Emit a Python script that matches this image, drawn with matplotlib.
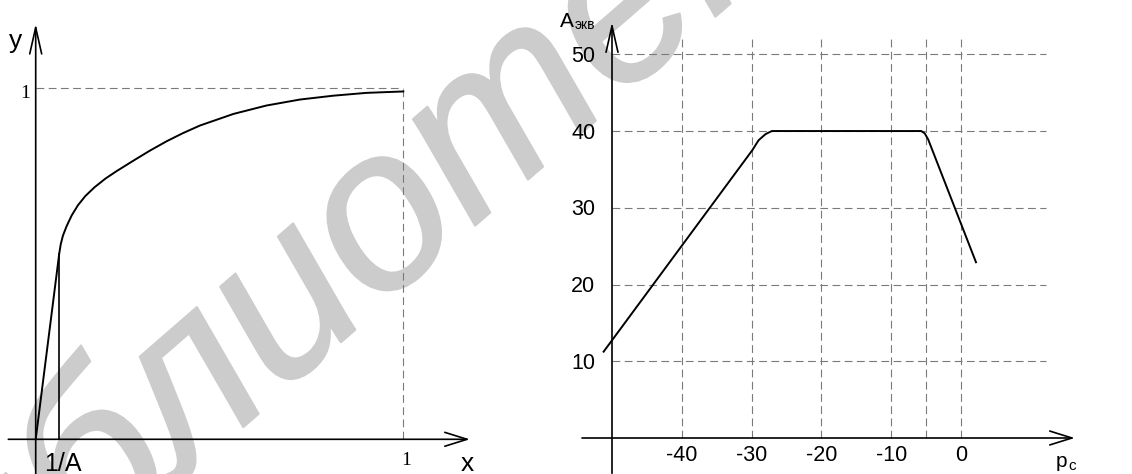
import numpy as np
import matplotlib
matplotlib.use('Agg')
import matplotlib.pyplot as plt
from matplotlib import font_manager as fm
import matplotlib.patheffects as pe

# ---- данные ----
# левый график: y(x)
x_curve = [0, 0.064, 0.068, 0.074, 0.084, 0.098, 0.115, 0.135, 0.160, 0.190,
           0.220, 0.266, 0.310, 0.356, 0.400, 0.447, 0.538, 0.628, 0.719,
           0.810, 0.900, 1.0]
y_curve = [0, 0.529, 0.555, 0.580, 0.607, 0.638, 0.667, 0.693, 0.718, 0.743,
           0.764, 0.794, 0.822, 0.849, 0.872, 0.894, 0.927, 0.951, 0.968,
           0.979, 0.987, 0.991]
x_inv_a = [0.064, 0.064]
y_inv_a = [0, 0.529]

# правый график: A_экв(p_c)
p_c = [-51.2, -29.9, -29.0, -28.0, -27.1, -5.7, -5.2, -4.7, 2.15]
a_ekv = [11.25, 37.5, 38.8, 39.6, 40.0, 40.0, 39.7, 38.9, 22.9]
p_ticks = [-40, -30, -20, -10, 0]
p_grid = [-40, -30, -20, -10, -5, 0]
a_ticks = [10, 20, 30, 40, 50]

W, H = 1132, 474
fig = plt.figure(figsize=(W / 100, H / 100), dpi=100)

# водяной знак (привязка по букве «о», пиксели от левого нижнего угла)
wm_text = 'библиотека'
wm_size = 165
wm_prop = fm.FontProperties(family='Liberation Sans', style='italic', size=wm_size)
ang = np.radians(41)
renderer = fig.canvas.get_renderer()
w_pre = renderer.get_text_width_height_descent('библи', wm_prop, ismath=False)[0]
w_o = renderer.get_text_width_height_descent('о', wm_prop, ismath=False)[0]
xh = 0.52 * wm_size * 100 / 72
u = np.array([np.cos(ang), np.sin(ang)])
n = np.array([-np.sin(ang), np.cos(ang)])
c_o = np.array([385.0, H - 225.0])
start = c_o - (w_pre + w_o / 2) * u - (xh / 2) * n
fig.text(start[0] / W, start[1] / H, wm_text, fontproperties=wm_prop,
         color='#cccccc', rotation=41, rotation_mode='anchor',
         ha='left', va='baseline', zorder=-1,
         path_effects=[pe.withStroke(linewidth=1.5, foreground='#cccccc')])

sans = 'Liberation Sans'
serif = 'Liberation Serif'
arr = dict(arrowstyle='->,head_length=1.6,head_width=0.5', lw=1.2, color='k',
           shrinkA=0, shrinkB=0)
arr_v = dict(arrowstyle='->,head_length=1.9,head_width=0.43', lw=1.2, color='k',
             shrinkA=0, shrinkB=0)
grid_kw = dict(colors='#7a7a7a', linewidth=0.8, linestyles=(0, (7, 4)))

# ---- левый ----
ax1 = fig.add_axes([0, 0, 1, 1])
ax1.set_xlim(-35.7 / 367.6, (W - 35.7) / 367.6)
ax1.set_ylim((439.3 - H) / 351.0, 439.3 / 351.0)
ax1.axis('off')
ax1.patch.set_alpha(0)

ax1.annotate('', xy=(1.181, 0), xytext=(-0.0745, 0), arrowprops=arr)
ax1.annotate('', xy=(0, 1.184), xytext=(0, -0.1), arrowprops=arr_v)
ax1.hlines(1, 0, 1, **grid_kw)
ax1.vlines(1, 0, 1, **grid_kw)
ax1.plot(x_curve, y_curve, color='k', lw=1.4, solid_joinstyle='round')
ax1.plot(x_inv_a, y_inv_a, color='k', lw=1.2)

ax1.text(-0.056, 1.115, 'y', fontsize=19, family=sans, ha='center', va='baseline')
ax1.text(1.175, -0.09, 'x', fontsize=19, family=sans, ha='center', va='baseline')
ax1.text(-0.029, 0.9727, '1', fontsize=14, family=serif, ha='center', va='baseline')
ax1.text(1.007, -0.0735, '1', fontsize=14, family=serif, ha='center', va='baseline')
ax1.text(0.0743, -0.09, '1/A', fontsize=18, family=sans, ha='center', va='baseline')

# ---- правый ----
ax2 = fig.add_axes([0, 0, 1, 1])
ax2.set_xlim(-961 / 6.98, (W - 961) / 6.98)
ax2.set_ylim((438 - H) / 7.674, 438 / 7.674)
ax2.axis('off')
ax2.patch.set_alpha(0)

ax2.hlines(a_ticks, -50, 12.2, **grid_kw)
ax2.vlines(p_grid, 0, 52.5, **grid_kw)
ax2.annotate('', xy=(16.3, 0), xytext=(-54.3, 0), arrowprops=arr)
ax2.annotate('', xy=(-50, 54.2), xytext=(-50, -4.6), arrowprops=arr_v)
ax2.plot(p_c, a_ekv, color='k', lw=1.4, solid_joinstyle='round')

for a in a_ticks:
    ax2.text(-52.4, a - 1.0, str(a), fontsize=15.5, family=sans, ha='right', va='baseline')
for p in p_ticks:
    ax2.text(p, -3.0, str(p), fontsize=15.5, family=sans, ha='center', va='baseline')

ax2.text(14.4, -3.78, 'p', fontsize=15, family=sans, ha='center', va='baseline')
ax2.text(15.9, -4.17, 'c', fontsize=11, family=sans, ha='center', va='baseline')
ax2.text(-56.4, 53.6, 'A', fontsize=15, family=sans, ha='center', va='baseline')
ax2.text(-53.9, 53.35, 'экв', fontsize=10, family=sans, ha='center', va='baseline')

plt.savefig('out.png', dpi=100)
